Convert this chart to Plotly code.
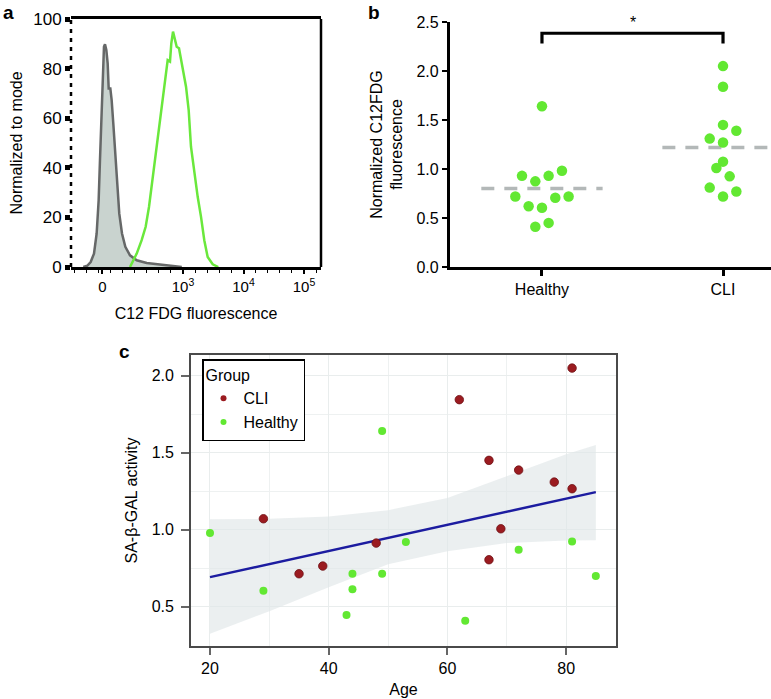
import plotly.graph_objects as go

# ---------------- Panel a: histogram overlay (x in transformed decade units) ----------------
ISO_X = [1.352, 1.418, 1.474, 1.529, 1.573, 1.606, 1.628, 1.650, 1.672, 1.694, 1.711, 1.733,
         1.755, 1.772, 1.799, 1.821, 1.848, 1.881, 1.914, 1.947, 1.992, 2.047, 2.124, 2.235,
         2.40, 2.62, 2.84, 2.98]
ISO_Y = [0, 0.5, 2.0, 5.4, 13.5, 26.9, 43.1, 60.6, 78.1, 88.8, 89.8, 87.5,
         82.1, 72.0, 72.0, 67.3, 57.9, 45.8, 32.3, 21.5, 13.5, 8.1, 4.7, 2.7,
         1.6, 0.9, 0.4, 0]
STAIN_X = [2.124, 2.169, 2.235, 2.317, 2.383, 2.438, 2.493, 2.549, 2.603, 2.658, 2.714, 2.747,
           2.785, 2.807, 2.835, 2.863, 2.896, 2.934, 2.972, 3.005, 3.05, 3.094, 3.132, 3.187,
           3.243, 3.298, 3.352, 3.408, 3.491, 3.583]
STAIN_Y = [0, 2.0, 5.4, 10.8, 16.2, 24.2, 35.0, 45.8, 56.5, 67.3, 76.7, 83.4,
           82.8, 90.2, 94.9, 91.5, 88.8, 88.2, 82.1, 78.7, 72.7, 63.3, 48.5, 37.7,
           28.3, 20.2, 10.8, 4.0, 1.1, 0]
A_TICK_VALS = [1.667, 3, 4, 5]
A_TICK_TEXT = ["0", "10<sup>3</sup>", "10<sup>4</sup>", "10<sup>5</sup>"]
A_Y_TICKS = [0, 20, 40, 60, 80, 100]

# ---------------- Panel b: dot plot ----------------
B_CATEGORIES = ["Healthy", "CLI"]
B_HEALTHY = [1.64, 0.93, 0.874, 0.93, 0.983, 0.72, 0.707, 0.72, 0.62, 0.605, 0.41, 0.45]
B_HEALTHY_SWARM = [0, -3, -1, 1, 3, -4, 2, 4, -2, 0, -1, 1]
B_CLI = [2.05, 1.84, 1.45, 1.39, 1.31, 1.27, 1.075, 1.01, 0.925, 0.81, 0.77, 0.72]
B_CLI_SWARM = [0, 0, 0, 2, -2, 0, 0, -1, 1, -2, 2, 0]
B_MEANS = [0.80, 1.22]
B_BRACKET_Y = 2.385
B_BRACKET_DROP = 0.105

# ---------------- Panel c: age vs SA-beta-GAL ----------------
CLI_AGE = [29, 35, 39, 48, 62, 81, 67, 72, 78, 81, 69, 67]
CLI_ACT = [1.071, 0.714, 0.764, 0.913, 1.844, 2.049, 1.45, 1.387, 1.309, 1.266, 1.006, 0.805]
H_AGE = [20, 29, 44, 44, 43, 49, 49, 53, 63, 72, 81, 85]
H_ACT = [0.978, 0.604, 0.714, 0.614, 0.446, 1.64, 0.714, 0.92, 0.409, 0.870, 0.924, 0.699]
FIT_AGE = [20, 85]
FIT_ACT = [0.692, 1.244]
BAND_AGE = [20, 30, 40, 50, 60, 70, 80, 85]
BAND_UP = [1.067, 1.071, 1.086, 1.127, 1.205, 1.345, 1.49, 1.549]
BAND_LO = [0.325, 0.47, 0.627, 0.775, 0.86, 0.913, 0.93, 0.931]

# ---------------- styles ----------------
FONT = "Liberation Sans, Arial, Helvetica, sans-serif"
GREEN = "#62e832"
RED = "#9b1b20"
SWARM_STEP = 0.0368
MEAN_HALF = 0.335

W, H = 771, 699

fig = go.Figure()

# Panel a traces
fig.add_trace(go.Scatter(x=ISO_X, y=ISO_Y, mode="lines", fill="tozeroy",
                         fillcolor="#c9d3cf", line=dict(color="#666868", width=2.5),
                         xaxis="x", yaxis="y", showlegend=False, hoverinfo="skip"))
fig.add_trace(go.Scatter(x=STAIN_X, y=STAIN_Y, mode="lines",
                         line=dict(color="#6ae83c", width=2.5),
                         xaxis="x", yaxis="y", showlegend=False, hoverinfo="skip"))

# Panel b traces
for i, (vals, swarm) in enumerate([(B_HEALTHY, B_HEALTHY_SWARM), (B_CLI, B_CLI_SWARM)]):
    fig.add_trace(go.Scatter(x=[i - MEAN_HALF, i + MEAN_HALF], y=[B_MEANS[i]] * 2, mode="lines",
                             line=dict(color="#b3b8b8", width=3.5, dash="13px,10px"),
                             xaxis="x2", yaxis="y2", showlegend=False, hoverinfo="skip"))
    fig.add_trace(go.Scatter(x=[i + k * SWARM_STEP for k in swarm], y=vals, mode="markers",
                             marker=dict(color=GREEN, size=10.5, line=dict(width=0)),
                             xaxis="x2", yaxis="y2", showlegend=False, cliponaxis=False))
fig.add_trace(go.Scatter(x=[0, 0, 1, 1],
                         y=[B_BRACKET_Y - B_BRACKET_DROP, B_BRACKET_Y, B_BRACKET_Y,
                            B_BRACKET_Y - B_BRACKET_DROP],
                         mode="lines", line=dict(color="black", width=3.2),
                         xaxis="x2", yaxis="y2", showlegend=False, cliponaxis=False,
                         hoverinfo="skip"))

# Panel c traces
fig.add_trace(go.Scatter(x=BAND_AGE + BAND_AGE[::-1], y=BAND_UP + BAND_LO[::-1],
                         mode="lines", fill="toself", fillcolor="rgba(224,231,232,0.65)",
                         line=dict(width=0), xaxis="x3", yaxis="y3",
                         showlegend=False, hoverinfo="skip"))
fig.add_trace(go.Scatter(x=FIT_AGE, y=FIT_ACT, mode="lines",
                         line=dict(color="#1c1ca0", width=2.5),
                         xaxis="x3", yaxis="y3", showlegend=False, hoverinfo="skip"))
fig.add_trace(go.Scatter(x=CLI_AGE, y=CLI_ACT, mode="markers",
                         marker=dict(color=RED, size=8.5, line=dict(color="#6e1014", width=0.8)),
                         xaxis="x3", yaxis="y3", showlegend=False))
fig.add_trace(go.Scatter(x=H_AGE, y=H_ACT, mode="markers",
                         marker=dict(color=GREEN, size=8, line=dict(width=0)),
                         xaxis="x3", yaxis="y3", showlegend=False))
# legend keys
fig.add_trace(go.Scatter(x=[None], y=[None], mode="markers", name="CLI",
                         marker=dict(color=RED, size=6), xaxis="x3", yaxis="y3"))
fig.add_trace(go.Scatter(x=[None], y=[None], mode="markers", name="Healthy",
                         marker=dict(color=GREEN, size=6), xaxis="x3", yaxis="y3"))


def px_x(p):
    return p / W


def px_y(p):
    return 1 - p / H


tick_font = dict(family=FONT, size=16, color="black")
title_font = dict(family=FONT, size=16, color="black")

fig.update_layout(
    width=W, height=H, margin=dict(l=0, r=0, t=0, b=0, autoexpand=False),
    paper_bgcolor="white", plot_bgcolor="white",
    font=dict(family=FONT, color="black"),
    # ---- panel a
    xaxis=dict(domain=[px_x(71), px_x(321)], range=[1.149, 5.281], anchor="y",
               showline=True, mirror=True, linecolor="black", linewidth=3,
               showgrid=False, zeroline=False,
               tickmode="array", tickvals=A_TICK_VALS, ticktext=A_TICK_TEXT,
               ticks="outside", ticklen=4, tickwidth=1.5, tickcolor="black",
               minor=dict(ticks="outside", ticklen=3, tickwidth=1.3, tickcolor="black",
                          dtick=0.2, tick0=1.0),
               tickfont=dict(family=FONT, size=15, color="black"),
               title=dict(text="C12 FDG fluorescence", font=title_font, standoff=14)),
    yaxis=dict(domain=[px_y(267), px_y(19)], range=[0, 100], anchor="x",
               showline=False, showgrid=False, zeroline=False,
               tickmode="array", tickvals=A_Y_TICKS,
               ticks="outside", ticklen=5, tickwidth=5, tickcolor="black",
               tickfont=dict(family=FONT, size=17, color="black"),
               title=dict(text="Normalized to mode", font=title_font, standoff=6)),
    # ---- panel b
    xaxis2=dict(domain=[px_x(450), 1.0], range=[-0.508, 1.265], anchor="y2",
                showline=True, linecolor="black", linewidth=3.2, showgrid=False, zeroline=False,
                tickmode="array", tickvals=[0, 1], ticktext=B_CATEGORIES,
                ticks="outside", ticklen=6, tickwidth=2.5, tickcolor="black",
                tickfont=tick_font),
    yaxis2=dict(domain=[px_y(267), px_y(22)], range=[0, 2.5], anchor="x2",
                showline=True, linecolor="black", linewidth=3.2, showgrid=False, zeroline=False,
                tickmode="linear", tick0=0, dtick=0.5, tickformat=".1f",
                ticks="outside", ticklen=5, tickwidth=2, tickcolor="black",
                tickfont=tick_font,
                title=dict(text="Normalized C12FDG<br>fluorescence", font=title_font, standoff=10)),
    # ---- panel c
    xaxis3=dict(domain=[px_x(191), px_x(616)], range=[16.8, 88.4], anchor="y3",
                showline=True, mirror=True, linecolor="#4a4a4a", linewidth=1.8,
                showgrid=True, gridcolor="#e9eded", gridwidth=1.4, zeroline=False,
                tickmode="linear", tick0=0, dtick=20,
                minor=dict(showgrid=True, gridcolor="#eef1f1", gridwidth=1.0, dtick=10, tick0=0),
                ticks="outside", ticklen=7, tickwidth=2, tickcolor="#666666",
                tickfont=tick_font,
                title=dict(text="Age", font=title_font, standoff=8)),
    yaxis3=dict(domain=[px_y(646), px_y(355)], range=[0.245, 2.134], anchor="x3",
                showline=True, mirror=True, linecolor="#4a4a4a", linewidth=1.8,
                showgrid=True, gridcolor="#e9eded", gridwidth=1.4, zeroline=False,
                tickmode="linear", tick0=0, dtick=0.5, tickformat=".1f",
                minor=dict(showgrid=True, gridcolor="#eef1f1", gridwidth=1.0, dtick=0.25, tick0=0),
                ticks="outside", ticklen=8, tickwidth=2, tickcolor="#666666",
                ticklabelstandoff=4,
                tickfont=tick_font,
                title=dict(text="SA-β-GAL activity", font=title_font, standoff=10)),
    legend=dict(x=px_x(202), y=px_y(359), xanchor="left", yanchor="top",
                bgcolor="white", bordercolor="black", borderwidth=1.5,
                title=dict(text="Group", font=dict(family=FONT, size=16, color="black")),
                font=dict(family=FONT, size=16, color="black"),
                tracegroupgap=0, itemwidth=30),
    showlegend=True,
)

# panel a frame pieces: right edge solid, left edge dashed
fig.add_shape(type="line", xref="x domain", yref="y domain", x0=1, x1=1, y0=0, y1=1,
              line=dict(color="black", width=2.5))
fig.add_shape(type="line", xref="x domain", yref="y domain", x0=0, x1=0, y0=0, y1=1,
              line=dict(color="black", width=2.5, dash="4px,5px"))

# significance star
fig.add_annotation(x=0.5, y=B_BRACKET_Y, xref="x2", yref="y2", text="*", showarrow=False,
                   yanchor="bottom", font=dict(family=FONT, size=16, color="black"))

# panel letters
for letter, lx, ly in [("a", 1, 13), ("b", 366, 13), ("c", 117, 351)]:
    fig.add_annotation(x=px_x(lx), y=px_y(ly), xref="paper", yref="paper", text=letter,
                       showarrow=False, xanchor="left", yanchor="middle",
                       font=dict(family=FONT, size=19, color="black", weight="bold"))

# remove the browser's default 8px body margin so the figure sits at the page origin
fig.write_html("out.html", config={"displayModeBar": False},
               post_script="document.body.style.margin='0px';")
